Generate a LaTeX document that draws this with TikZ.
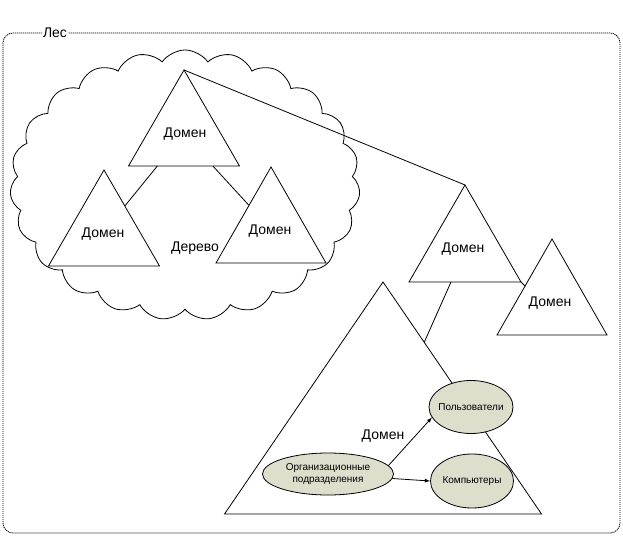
\documentclass[tikz,border=0pt]{standalone}
\usepackage{fontspec}
\setmainfont{Liberation Sans}
\usetikzlibrary{calc,arrows,shapes.symbols,shapes.geometric}
\definecolor{oufill}{RGB}{221,222,204}

\begin{document}
\begin{tikzpicture}[x=1pt,y=-1pt,line width=0.8pt,
    lbl/.style={font=\fontsize{14}{16}\selectfont},
    obj/.style={ellipse,draw,fill=oufill,inner sep=-6pt,align=center,
        font=\fontsize{10}{12}\selectfont}]
    \useasboundingbox (0,0) rectangle (623,537);
    \draw[rounded corners=10pt,dash pattern=on 1.2pt off 0.8pt] (3,33) rectangle (620,533);
    \node[lbl,fill=white,inner sep=1pt] (les) at (55,33) {Лес};
    \node[cloud,draw,cloud puffs=23,cloud puff arc=110,aspect=1.3,
        minimum width=350pt,minimum height=270pt,inner sep=0pt] (tree) at (185,185) {};
    \node[lbl] (treelbl) at (195,248) {Дерево};
    \foreach \n/\x/\y/\w/\h in {d1/184/70/111/96, d2/104/170/111/96, d3/271/167/110/96,
        d4/465/185/112/97, d5/552/239/110/96, big/383/282/317/232} {
        \coordinate (\n-t) at (\x,\y);
        \coordinate (\n-l) at (\x-\w/2,\y+\h);
        \coordinate (\n-r) at (\x+\w/2,\y+\h);
        \draw[fill=white] (\n-t) -- (\n-l) -- (\n-r) -- cycle;
    }
    \foreach \n/\x/\y in {d1/185/134, d2/103/234, d3/270/231, d4/463/249, d5/550/303, big/383/436} {
        \node[lbl] (\n-lbl) at (\x,\y) {Домен};
    }
    \draw ($(d1-l)!0.26!(d1-r)$) -- ($(d2-t)!0.375!(d2-r)$);
    \draw ($(d1-l)!0.76!(d1-r)$) -- ($(d3-t)!0.4!(d3-l)$);
    \draw (d1-t) -- (d4-t);
    \draw ($(d4-l)!0.375!(d4-r)$) -- ($(big-t)!0.26!(big-r)$);
    \draw (d4-r) -- ($(d5-t)!0.49!(d5-l)$);
    \node[obj,minimum width=131pt,minimum height=42pt] (ou) at (328,474) {Организационные\\подразделения};
    \node[obj,minimum width=84pt,minimum height=53pt] (users) at (471,407) {Пользователи};
    \node[obj,minimum width=83pt,minimum height=54pt] (comps) at (472,481) {Компьютеры};
    \draw[-latex] (ou.8) -- (users.195);
    \draw[-latex] (ou.-4) -- (comps.west);
\end{tikzpicture}
\end{document}
